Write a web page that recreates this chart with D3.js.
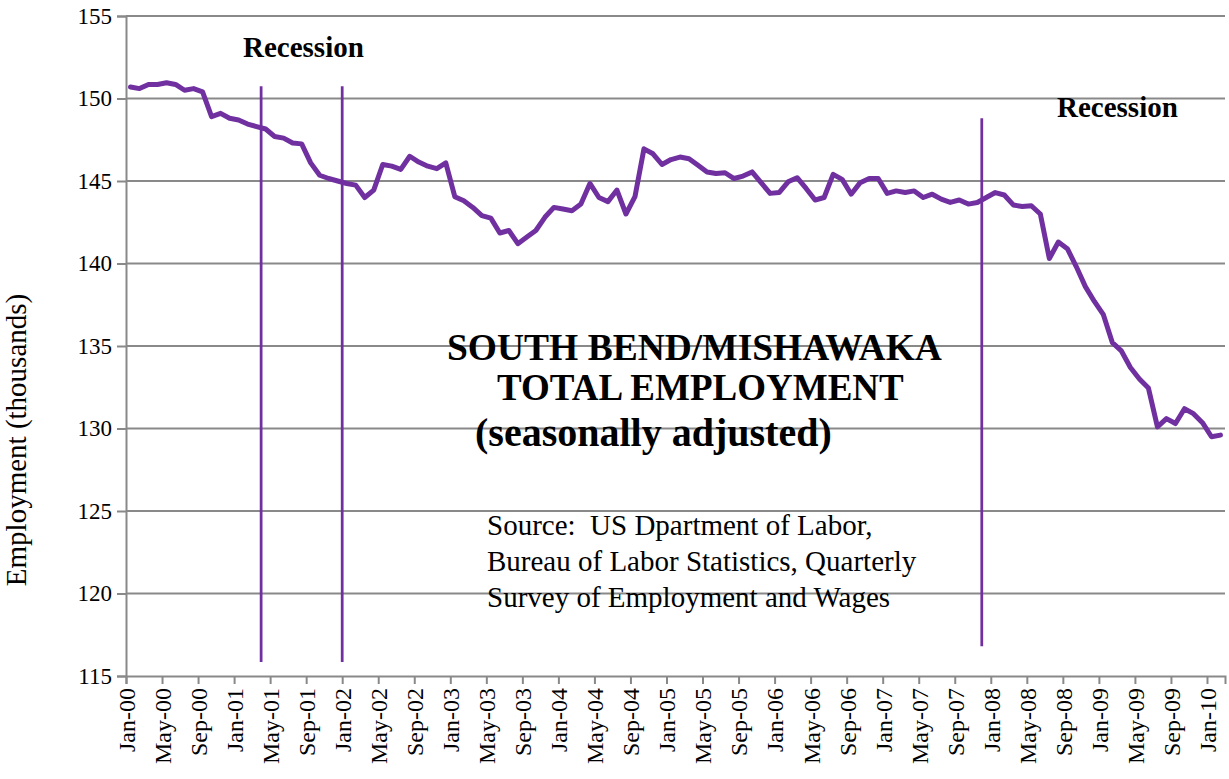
<!DOCTYPE html>
<html lang="en">
<head>
    <meta charset="UTF-8">
    <title>South Bend/Mishawaka total employment</title>
    <script src="https://d3js.org/d3.v7.min.js"></script>
    <style type="text/css">
        body { margin: 0; background: #fff; }
        text { font-family: "Liberation Serif", "Times New Roman", serif; }
    </style>
</head>
    <body>
        <script type="text/javascript">

        //Width and height
        var w = 1229;
        var h = 779;

        //Monthly categories, Jan-00 .. Feb-10
        var months = d3.timeMonths(new Date(2000, 0, 1), new Date(2010, 2, 1));

        //Total employment (thousands), seasonally adjusted
        var employment = [
            150.7, 150.6, 150.85, 150.85, 150.95, 150.85, 150.5, 150.6, 150.4, 148.9, 149.1, 148.8,
            148.7, 148.45, 148.3, 148.15, 147.7, 147.6, 147.3, 147.25, 146.1, 145.35, 145.15, 145.0,
            144.85, 144.75, 144.0, 144.45, 146.0, 145.9, 145.7, 146.5, 146.15, 145.9, 145.75, 146.1,
            144.05, 143.8, 143.4, 142.9, 142.75, 141.85, 142.0, 141.2, 141.6, 142.0, 142.8, 143.4,
            143.3, 143.2, 143.6, 144.85, 144.0, 143.75, 144.45, 143.0, 144.05, 146.95, 146.65, 146.0,
            146.3, 146.45, 146.35, 145.95, 145.55, 145.45, 145.5, 145.15, 145.3, 145.55, 144.9, 144.25,
            144.3, 144.95, 145.2, 144.55, 143.85, 144.0, 145.4, 145.1, 144.2, 144.9, 145.15, 145.15,
            144.25, 144.4, 144.3, 144.4, 144.0, 144.2, 143.9, 143.7, 143.85, 143.6, 143.7, 144.0,
            144.3, 144.15, 143.55, 143.45, 143.5, 143.0, 140.3, 141.3, 140.9, 139.8, 138.6, 137.7,
            136.9, 135.2, 134.7, 133.7, 133.0, 132.45, 130.1, 130.6, 130.3, 131.2, 130.9, 130.35,
            129.5, 129.6
        ];

        var yTicks = [115, 120, 125, 130, 135, 140, 145, 150, 155];

        //Recession marker lines: month index where drawn, top and bottom in thousands
        var recessionMonth = [15, 24, 95];
        var recessionTop = [150.75, 150.75, 148.8];
        var recessionBottom = [115.85, 115.85, 116.8];

        var recessionLabels = ["Recession", "Recession"];
        var titleLines = ["SOUTH BEND/MISHAWAKA", "TOTAL EMPLOYMENT", "(seasonally adjusted)"];
        var sourceLines = ["Source:\u00a0\u00a0US Dpartment of Labor,",
                           "Bureau of Labor Statistics, Quarterly",
                           "Survey of Employment and Wages"];

        var formatMonth = d3.timeFormat("%b-%y");
        var purple = "#7030a0";
        var grey = "#898989";

        //Scales
        var xScale = d3.scaleLinear()
            .domain([0, months.length])
            .range([126, 1225]);

        var yScale = d3.scaleLinear()
            .domain([115, 155])
            .range([676, 16]);

        var svg = d3.select("body")
            .append("svg")
            .attr("width", w)
            .attr("height", h);

        //Gridlines
        svg.selectAll("line.grid")
            .data(yTicks.slice(1))
            .enter()
            .append("line")
            .attr("class", "grid")
            .attr("x1", xScale(0))
            .attr("x2", xScale(months.length))
            .attr("y1", function (d) { return yScale(d); })
            .attr("y2", function (d) { return yScale(d); })
            .attr("stroke", grey)
            .attr("stroke-width", 2);

        //Y axis
        var yAxis = svg.append("g")
            .attr("transform", "translate(" + xScale(0) + ",0)")
            .call(d3.axisLeft(yScale).tickValues(yTicks).tickSize(9).tickPadding(5));
        yAxis.selectAll("text")
            .attr("font-size", "23px")
            .attr("font-family", "Liberation Serif")
            .attr("fill", "#000");

        //X axis
        var xAxis = svg.append("g")
            .attr("transform", "translate(0," + yScale(115) + ")")
            .call(d3.axisBottom(xScale)
                .tickValues(d3.range(0, months.length + 1, 4))
                .tickFormat(function (i) { return formatMonth(months[i]); })
                .tickSize(8));
        xAxis.selectAll("text")
            .attr("transform", "rotate(-90)")
            .attr("x", -12)
            .attr("y", 0)
            .attr("dy", "0.35em")
            .style("text-anchor", "end")
            .attr("font-size", "24px")
            .attr("font-family", "Liberation Serif")
            .attr("fill", "#000");

        svg.selectAll(".domain, .tick line")
            .attr("stroke", grey)
            .attr("stroke-width", 2);

        //Y axis title
        svg.append("text")
            .attr("transform", "translate(26,440) rotate(-90)")
            .attr("text-anchor", "middle")
            .attr("font-size", "29px")
            .text("Employment (thousands)");

        //Recession markers
        svg.selectAll("line.recession")
            .data(recessionMonth)
            .enter()
            .append("line")
            .attr("class", "recession")
            .attr("x1", function (d) { return xScale(d); })
            .attr("x2", function (d) { return xScale(d); })
            .attr("y1", function (d, i) { return yScale(recessionTop[i]); })
            .attr("y2", function (d, i) { return yScale(recessionBottom[i]); })
            .attr("stroke", purple)
            .attr("stroke-width", 2.75);

        svg.selectAll("text.recession")
            .data(recessionLabels)
            .enter()
            .append("text")
            .attr("class", "recession")
            .attr("x", function (d, i) { return i == 0 ? 243 : 1057; })
            .attr("y", function (d, i) { return i == 0 ? 57 : 117; })
            .attr("font-size", "29px")
            .attr("font-weight", "bold")
            .text(function (d) { return d; });

        //Employment line
        var line = d3.line()
            .x(function (d, i) { return xScale(i + 0.5); })
            .y(function (d) { return yScale(d); });

        svg.append("path")
            .datum(employment)
            .attr("d", line)
            .attr("fill", "none")
            .attr("stroke", purple)
            .attr("stroke-width", 5)
            .attr("stroke-linejoin", "round")
            .attr("stroke-linecap", "round");

        //Title
        svg.selectAll("text.title")
            .data(titleLines)
            .enter()
            .append("text")
            .attr("class", "title")
            .attr("x", function (d, i) { return [447, 497, 475][i]; })
            .attr("y", function (d, i) { return [360, 400, 446][i]; })
            .attr("font-size", function (d, i) { return [37.5, 37, 40][i] + "px"; })
            .attr("font-weight", "bold")
            .text(function (d) { return d; });

        //Source note
        svg.selectAll("text.source")
            .data(sourceLines)
            .enter()
            .append("text")
            .attr("class", "source")
            .attr("x", 487)
            .attr("y", function (d, i) { return 535 + i * 36; })
            .attr("font-size", "29px")
            .text(function (d) { return d; });

        </script>
    </body>
</html>
